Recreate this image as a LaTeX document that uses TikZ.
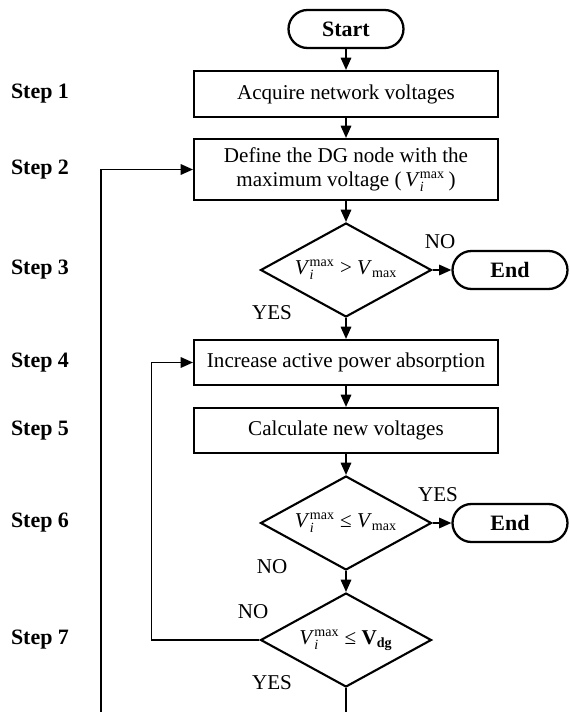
\documentclass[tikz,border=0pt]{standalone}
\usepackage{fontspec}
\setmainfont{Liberation Serif}
\usetikzlibrary{shapes.geometric,arrows.meta}
\newcommand{\subsz}{\fontsize{8}{9}\selectfont}
\newcommand{\Vimax}{\textit{V}$_{\mbox{\subsz\itshape i}}^{\mbox{\subsz max}}$}
\newcommand{\Vmax}{\textit{V}$_{\mbox{\subsz max}}$}
\newcommand{\Vdg}{\textbf{V}$_{\mbox{\subsz\bfseries dg}}$}

\begin{document}
\begin{tikzpicture}[x=0.02cm, y=-0.02cm, font=\fontsize{12}{14}\selectfont,
		box/.style={draw, line width=1.2pt, minimum width=6.08cm, align=center},
		term/.style={draw, line width=1.3pt, rounded corners=0.38cm, minimum width=2.3cm, minimum height=0.76cm, font=\fontsize{12.5}{14}\selectfont\bfseries},
		decide/.style={draw, diamond, aspect=1.82, line width=1.2pt, minimum width=3.42cm, minimum height=1.88cm, inner sep=0pt},
		steplabel/.style={font=\fontsize{12.5}{14}\selectfont\bfseries},
		arrow/.style={line width=0.9pt, -{Triangle[length=7pt,width=6pt]}},
		line/.style={line width=0.9pt}]
			%%%%% START %%%%%
			
			\useasboundingbox (0,0) rectangle (570,712);
			
			\node[term] (start) at (346,29) {Start};
			\node[box, minimum height=0.92cm] (b1) at (346,94) {Acquire network voltages};
			\node[box, minimum height=1.22cm] (b2) at (346,169.5) {Define the DG node with the\\maximum voltage (\,\Vimax\,)};
			
			\node[decide] (d3) at (346,270) {\Vimax\ > \Vmax};
			\node[term] (end1) at (510,270) {End};
			
			\node[box, minimum height=0.9cm] (b4) at (346,362.5) {Increase active power absorption};
			\node[box, minimum height=0.9cm] (b5) at (346,430.5) {Calculate new voltages};
			
			\node[decide] (d6) at (346,523) {\Vimax\ ≤ \Vmax};
			\node[term] (end2) at (510,523) {End};
			\node[decide] (d7) at (346,640) {\Vimax\ ≤ \Vdg};
			
			\node (no3) at (440,242) {NO};
			\node (yes3) at (272,313) {YES};
			\node (yes6) at (438,495) {YES};
			\node (no6) at (272,567) {NO};
			\node (no7) at (253,612) {NO};
			\node (yes7) at (272,683) {YES};
			
			\foreach \n/\y in {1/94, 2/169.5, 3/270, 4/362.5, 5/430.5, 6/523, 7/640}
				\node[steplabel] (step\n) at (40,\y) {Step \n};
			
			\draw[arrow] (start) -- (b1);
			\draw[arrow] (b1) -- (b2);
			\draw[arrow] (b2) -- (d3);
			\draw[arrow] (d3) -- (end1);
			\draw[arrow] (d3) -- (b4);
			\draw[arrow] (b4) -- (b5);
			\draw[arrow] (b5) -- (d6);
			\draw[arrow] (d6) -- (end2);
			\draw[arrow] (d6) -- (d7);
			
			\draw[arrow] (d7.west) -- ++(-108,0) |- (b4.west);
			
			\coordinate (cutmid) at (346,712);
			\coordinate (cutleft) at (101,712);
			\draw[line] (d7.south) -- (cutmid);
			\draw[arrow] (cutleft) |- (b2.west);
			
			%%%%% END %%%%%
\end{tikzpicture}
\end{document}
